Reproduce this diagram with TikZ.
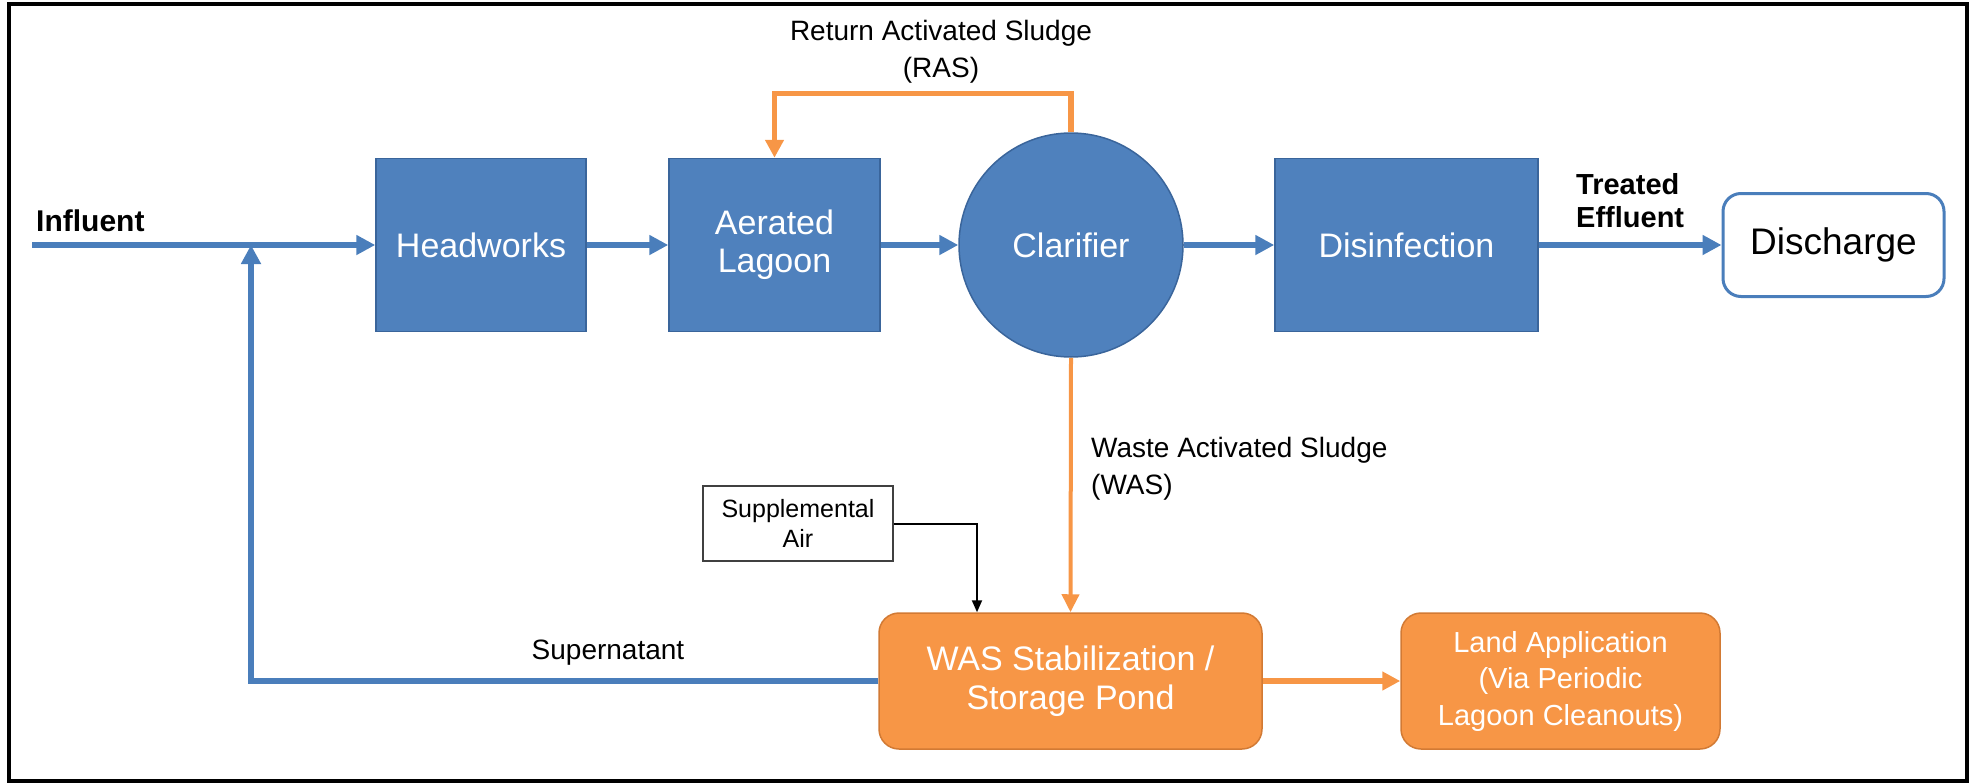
\documentclass[tikz,border=0pt]{standalone}
\usepackage{fontspec}
\setmainfont{Liberation Sans}
\usetikzlibrary{arrows.meta,calc}
\definecolor{bfill}{HTML}{4F81BD}
\definecolor{bdraw}{HTML}{3A659B}
\definecolor{bline}{HTML}{4A7EBB}
\definecolor{ofill}{HTML}{F79646}
\definecolor{odraw}{HTML}{D27A34}
\begin{document}
\begin{tikzpicture}[x=1pt,y=-1pt,
  bluebox/.style={rectangle,fill=bfill,draw=bdraw,line width=1.5pt,text=white,
    font=\fontsize{34}{38}\selectfont,align=center,inner sep=0pt,minimum height=173pt},
  orbox/.style={rectangle,rounded corners=20pt,fill=ofill,draw=odraw,line width=1.5pt,text=white,
    align=center,inner sep=0pt,minimum height=136pt},
  lbl/.style={inner sep=0pt,font=\fontsize{28}{37}\selectfont},
  bflow/.style={draw=bline,line width=5.5pt,-{Triangle[length=19pt,width=19pt]}},
  oflow/.style={draw=ofill,line width=5.5pt,-{Triangle[length=18pt,width=18pt]}},
  oflowthin/.style={draw=ofill,line width=4pt,-{Triangle[length=18pt,width=17pt]}},
  kflow/.style={draw=black,line width=2pt,-{Triangle[length=12pt,width=10pt]}}
]
\useasboundingbox (0,0) rectangle (1976,784);
\draw[line width=3.5pt] (9,4) rectangle (1967,781);

% main line nodes
\node[bluebox,minimum width=210pt] (hw) at (481,245) {Headworks};
\node[bluebox,minimum width=211pt] (al) at (774.5,245) {Aerated\\Lagoon};
\node[circle,fill=bfill,draw=bdraw,line width=1.5pt,text=white,inner sep=0pt,
  minimum size=224pt,font=\fontsize{34}{38}\selectfont] (cl) at (1071,245) {Clarifier};
\node[bluebox,minimum width=263pt] (dis) at (1406.5,245) {Disinfection};
\node[rectangle,rounded corners=18pt,fill=white,draw=bline,line width=3pt,inner sep=0pt,
  minimum width=221pt,minimum height=103pt,font=\fontsize{37}{40}\selectfont] (dc) at (1833.5,245) {Discharge};

% lower nodes
\node[orbox,minimum width=383pt,font=\fontsize{34}{39}\selectfont] (was) at (1070.5,681) {WAS Stabilization /\\Storage Pond};
\node[orbox,minimum width=319pt,font=\fontsize{29}{36.5}\selectfont] (land) at (1560.5,681) {Land Application\\(Via Periodic\\Lagoon Cleanouts)};
\node[rectangle,draw=black!75,line width=1.5pt,fill=white,inner sep=0pt,align=center,
  minimum width=190pt,minimum height=75pt,font=\fontsize{25}{30}\selectfont] (sa) at (798,523.5) {Supplemental\\Air};

% labels
\node[lbl,anchor=west,font=\fontsize{30}{34}\selectfont\bfseries] (linf) at (36,221) {Influent};
\node[lbl,anchor=west,align=left,font=\fontsize{29}{33}\selectfont\bfseries] (ltr) at (1576,201) {Treated\\Effluent};
\node[lbl,align=center] (lras) at (941,51.5) {Return Activated Sludge\\(RAS)};
\node[lbl,anchor=west,align=left] (lwas) at (1091,468.5) {Waste Activated Sludge\\(WAS)};
\node[lbl] (lsup) at (608,653) {Supernatant};

% coordinates
\coordinate (inf) at (32,245);
\coordinate (jn) at (251,245);

% connectors
\draw[bflow] (inf) -- (hw.west);
\draw[bflow] (hw) -- (al);
\draw[bflow] (al) -- (cl);
\draw[bflow] (cl) -- (dis);
\draw[bflow] (dis) -- (dc);
\draw[bflow] (was.west) -| (jn);
\draw[oflow] (cl.north) -- ++(0,-39) -| (al.north);
\draw[oflowthin] (cl.south) -- (was.north);
\draw[oflow] (was) -- (land);
\draw[kflow] (sa.east) -| ([xshift=-93.5pt]was.north);
\end{tikzpicture}
\end{document}
